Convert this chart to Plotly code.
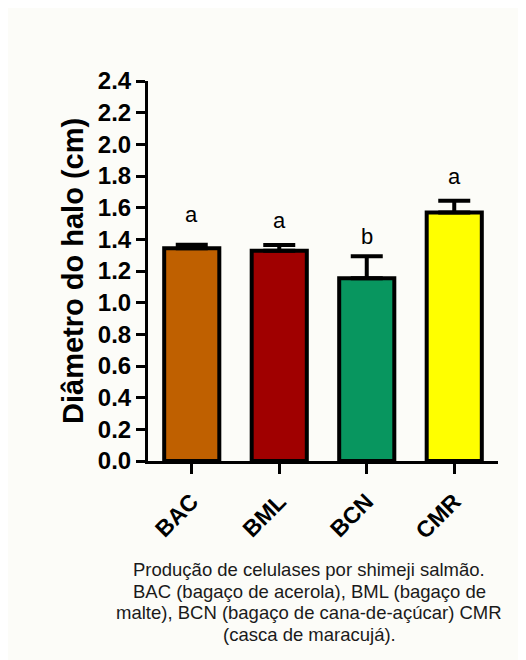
import plotly.graph_objects as go

categories = ["BAC", "BML", "BCN", "CMR"]
means = [1.343, 1.328, 1.154, 1.569]
errors = [0.023, 0.036, 0.139, 0.074]
colors = ["#BF6000", "#A00000", "#08965F", "#FFFF00"]
letters = ["a", "a", "b", "a"]
letter_y = [1.556, 1.518, 1.419, 1.798]
y_ticks = [0.0, 0.2, 0.4, 0.6, 0.8, 1.0, 1.2, 1.4, 1.6, 1.8, 2.0, 2.2, 2.4]
y_title = "Diâmetro do halo (cm)"
caption_lines = [
    "Produção de celulases por shimeji salmão.",
    "BAC (bagaço de acerola), BML (bagaço de",
    "malte), BCN (bagaço de cana-de-açúcar) CMR",
    "(casca de maracujá).",
]

BOLD = "Liberation Sans, Arial, sans-serif"
REG = "Liberation Sans, Arial, sans-serif"
BG = "#FCFCF8"

W, H = 518, 652
ML, MR, MT, MB = 140, 28, 73, 199
PW, PH = W - ML - MR, H - MT - MB

fig = go.Figure()
fig.add_trace(go.Bar(
    x=categories, y=means,
    width=0.63,
    marker=dict(color=colors, line=dict(color="black", width=4)),
    error_y=dict(type="data", symmetric=False, array=errors,
                 arrayminus=[0] * len(errors),
                 color="black", thickness=4, width=16),
    showlegend=False,
))

for c, l, ly in zip(categories, letters, letter_y):
    fig.add_annotation(x=c, y=ly, xref="x", yref="y", text=l, showarrow=False,
                       font=dict(family=REG, size=22, color="black"),
                       yanchor="middle")

baselines_px = [567, 589, 610, 632]
for line, bpx in zip(caption_lines, baselines_px):
    fig.add_annotation(x=(301 - ML) / PW, y=(H - MB - (bpx - 6)) / PH,
                       xref="paper", yref="paper", text=line, showarrow=False,
                       font=dict(family=REG, size=18.5, color="#1a1a1a"),
                       xanchor="center", yanchor="middle")

# y-axis title as annotation for exact placement
fig.add_annotation(x=(65 - ML) / PW, y=0.5, xref="paper", yref="paper",
                   text=y_title, showarrow=False, textangle=-90,
                   font=dict(family=BOLD, size=29, color="black", weight="bold"),
                   xanchor="center", yanchor="middle")

fig.update_layout(
    width=W, height=H,
    margin=dict(l=ML, r=MR, t=MT, b=MB, autoexpand=False),
    paper_bgcolor=BG, plot_bgcolor="rgba(0,0,0,0)",
    xaxis=dict(
        range=[-0.5, 3.5], showgrid=False, zeroline=False, automargin=False,
        showline=True, linecolor="black", linewidth=3,
        ticks="outside", ticklen=10, tickwidth=3, tickcolor="black",
        tickangle=-45, ticklabelstandoff=5,
        tickfont=dict(family=BOLD, size=23, color="black", weight="bold"),
    ),
    yaxis=dict(
        range=[0, 2.4], tickvals=y_ticks, automargin=False,
        ticktext=[f"{v:.1f}" for v in y_ticks],
        showgrid=False, zeroline=False,
        showline=True, linecolor="black", linewidth=3,
        ticks="outside", ticklen=9, tickwidth=3, tickcolor="black",
        tickfont=dict(family=BOLD, size=24, color="black", weight="bold"),
    ),
)

fig.write_html("out.html")
